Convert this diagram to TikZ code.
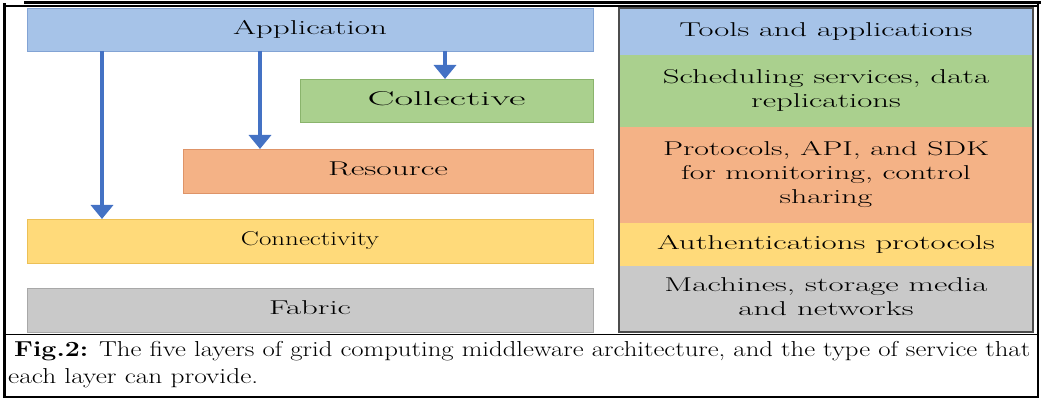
\documentclass[tikz,border=0pt]{standalone}
\usepackage{graphicx}
\usetikzlibrary{arrows.meta}
\definecolor{cblue}{RGB}{166,195,232}
\definecolor{cbluedk}{RGB}{130,163,212}
\definecolor{cgreen}{RGB}{170,208,142}
\definecolor{cgreendk}{RGB}{138,180,108}
\definecolor{corange}{RGB}{244,178,134}
\definecolor{corangedk}{RGB}{222,148,104}
\definecolor{cyellow}{RGB}{255,218,122}
\definecolor{cyellowdk}{RGB}{236,192,86}
\definecolor{cgray}{RGB}{201,201,201}
\definecolor{cgraydk}{RGB}{168,168,168}
\definecolor{carrow}{RGB}{68,114,196}
\newcommand{\wtxt}[2]{\resizebox{#1pt}{\height}{\begin{tabular}{@{}c@{}}#2\end{tabular}}}
\begin{document}
\begin{tikzpicture}[x=1pt,y=-1pt,
  layer/.style={anchor=north west, inner sep=0pt, outer sep=0pt, line width=0.8pt,
    minimum width=566pt, minimum height=44pt, font=\fontsize{20}{24}\selectfont},
  cell/.style={anchor=north west, inner sep=0pt, outer sep=0pt,
    minimum width=414pt, font=\fontsize{20}{24}\selectfont},
  arr/.style={draw=carrow, line width=3.5pt, -{Triangle[width=22pt,length=14pt]}},
  frame/.style={draw=black, line cap=rect}]
\useasboundingbox (0,0) rectangle (1041,398);
% left layers
\node[layer, fill=cblue, draw=cbluedk, minimum height=43pt] (app) at (27,8) {\wtxt{154}{Application}};
\node[layer, fill=cgreen, draw=cgreendk, minimum width=293pt, minimum height=43pt] (coll) at (300,79) {\wtxt{158}{Collective}};
\node[layer, fill=corange, draw=corangedk, minimum width=410pt, minimum height=44pt] (res) at (183,149) {\wtxt{120}{Resource}};
\node[layer, fill=cyellow, draw=cyellowdk, minimum height=44pt] (conn) at (27,219) {\wtxt{138}{Connectivity}};
\node[layer, fill=cgray, draw=cgraydk, minimum height=44pt] (fab) at (27,288) {\wtxt{82}{Fabric}};
% arrows
\coordinate (a1) at (102,0);
\coordinate (a2) at (260,0);
\coordinate (a3) at (445,0);
\draw[arr] (app.south -| a1) -- (conn.north -| a1);
\draw[arr] (app.south -| a2) -- (res.north -| a2);
\draw[arr] (app.south -| a3) -- (coll.north -| a3);
% right table
\node[cell, fill=cblue, minimum height=47pt] (t1) at (619,8) {\wtxt{293}{Tools and applications}};
\node[cell, fill=cgreen, minimum height=72pt] (t2) at (619,55) {\wtxt{326}{Scheduling services, data\\replications}};
\node[cell, fill=corange, minimum height=96pt] (t3) at (619,127) {\wtxt{326}{Protocols, API, and SDK\\for monitoring, control\\sharing}};
\node[cell, fill=cyellow, minimum height=43pt] (t4) at (619,223) {\wtxt{338}{Authentications protocols}};
\node[cell, fill=cgray, minimum height=66pt] (t5) at (619,266) {\wtxt{323}{Machines, storage media\\and networks}};
\draw[draw=black!70, line width=1.5pt] (t1.north west) rectangle (t5.south east);
% frame
\draw[frame, line width=3pt] (25,2.5) -- (1041,2.5);
\draw[frame, line width=1.2pt] (4,6) -- (1038,6);
\draw[frame, line width=3pt] (4,5) -- (4,398);
\draw[frame, line width=2pt] (1038,5) -- (1038,398);
\draw[frame, line width=1.5pt] (4,334.5) -- (1038,334.5);
\draw[frame, line width=1.5pt] (4,397) -- (1038,397);
% caption
\node[anchor=base west, inner sep=0pt] (cap1) at (14,356) {\resizebox{1016pt}{\height}{\fontsize{21.6}{26}\selectfont\textbf{Fig.2:} The five layers of grid computing middleware architecture, and the type of service that}};
\node[anchor=base west, inner sep=0pt] (cap2) at (8,383) {\resizebox{250pt}{\height}{\fontsize{21.6}{26}\selectfont each layer can provide.}};
\end{tikzpicture}
\end{document}
